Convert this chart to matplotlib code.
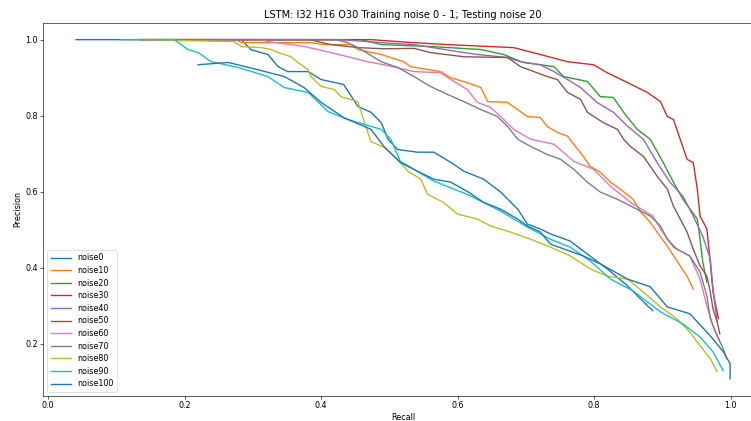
import numpy as np
import matplotlib.pyplot as plt

# recall / precision pairs, one pair of lists per noise level
noise0_r = [0.041, 0.283, 0.297, 0.312, 0.322, 0.337, 0.351, 0.381, 0.400, 0.433, 0.454, 0.473, 0.488, 0.498,
            0.512, 0.541, 0.565, 0.590, 0.609, 0.638, 0.663, 0.688, 0.702, 0.721, 0.736, 0.765, 0.784, 0.819,
            0.849, 0.878, 0.886]
noise0_p = [1.0, 1.0, 0.974, 0.966, 0.961, 0.929, 0.916, 0.916, 0.895, 0.882, 0.824, 0.809, 0.782, 0.738,
            0.711, 0.704, 0.704, 0.677, 0.654, 0.633, 0.599, 0.554, 0.515, 0.502, 0.489, 0.470, 0.444, 0.397,
            0.352, 0.300, 0.287]

noise10_r = [0.137, 0.275, 0.283, 0.385, 0.404, 0.444, 0.454, 0.488, 0.521, 0.531, 0.575, 0.590, 0.614, 0.634,
             0.644, 0.673, 0.688, 0.702, 0.721, 0.731, 0.746, 0.761, 0.770, 0.784, 0.794, 0.809, 0.824, 0.838,
             0.857, 0.867, 0.882, 0.892, 0.907, 0.926, 0.936, 0.945]
noise10_p = [1.0, 1.0, 0.992, 0.992, 0.987, 0.987, 0.974, 0.961, 0.942, 0.929, 0.916, 0.900, 0.887, 0.874,
             0.837, 0.835, 0.816, 0.798, 0.795, 0.772, 0.756, 0.746, 0.725, 0.693, 0.667, 0.651, 0.625, 0.607,
             0.580, 0.549, 0.520, 0.494, 0.457, 0.405, 0.378, 0.344]

noise20_r = [0.137, 0.458, 0.488, 0.560, 0.634, 0.667, 0.696, 0.741, 0.755, 0.790, 0.809, 0.828, 0.843, 0.863,
             0.882, 0.901, 0.916, 0.930, 0.951, 0.955, 0.959, 0.965]
noise20_p = [1.0, 1.0, 0.987, 0.982, 0.974, 0.961, 0.940, 0.929, 0.903, 0.890, 0.850, 0.848, 0.809, 0.764,
             0.738, 0.677, 0.625, 0.580, 0.528, 0.475, 0.415, 0.362]

noise30_r = [0.137, 0.473, 0.536, 0.585, 0.682, 0.721, 0.761, 0.799, 0.819, 0.849, 0.878, 0.897, 0.907, 0.916,
             0.926, 0.936, 0.945, 0.951, 0.955, 0.965, 0.970, 0.974, 0.982]
noise30_p = [1.0, 1.0, 0.992, 0.987, 0.979, 0.961, 0.942, 0.934, 0.913, 0.887, 0.861, 0.837, 0.798, 0.790,
             0.738, 0.685, 0.677, 0.607, 0.536, 0.502, 0.415, 0.336, 0.266]

noise40_r = [0.137, 0.429, 0.488, 0.536, 0.609, 0.629, 0.673, 0.692, 0.721, 0.741, 0.761, 0.780, 0.804, 0.828,
             0.849, 0.872, 0.892, 0.911, 0.930, 0.945, 0.959, 0.970, 0.974, 0.980]
noise40_p = [1.0, 1.0, 0.992, 0.987, 0.966, 0.961, 0.953, 0.942, 0.934, 0.916, 0.895, 0.874, 0.835, 0.809,
             0.772, 0.738, 0.677, 0.625, 0.588, 0.536, 0.483, 0.423, 0.344, 0.258]

noise50_r = [0.137, 0.385, 0.395, 0.414, 0.454, 0.492, 0.536, 0.560, 0.609, 0.673, 0.692, 0.731, 0.746, 0.761,
             0.780, 0.790, 0.813, 0.834, 0.843, 0.853, 0.872, 0.882, 0.892, 0.907, 0.916, 0.926, 0.936, 0.945,
             0.955, 0.965, 0.970, 0.974, 0.980, 0.984]
noise50_p = [1.0, 1.0, 0.995, 0.987, 0.979, 0.976, 0.977, 0.966, 0.955, 0.953, 0.929, 0.903, 0.895, 0.861,
             0.843, 0.809, 0.782, 0.764, 0.738, 0.719, 0.693, 0.667, 0.641, 0.607, 0.562, 0.528, 0.494, 0.449,
             0.405, 0.378, 0.336, 0.292, 0.258, 0.226]

noise60_r = [0.137, 0.312, 0.322, 0.356, 0.375, 0.395, 0.414, 0.444, 0.468, 0.492, 0.536, 0.575, 0.590, 0.614,
             0.629, 0.648, 0.663, 0.682, 0.707, 0.741, 0.770, 0.799, 0.824, 0.857, 0.886, 0.897, 0.916, 0.940,
             0.955, 0.965, 0.974, 0.984]
noise60_p = [1.0, 1.0, 0.995, 0.987, 0.982, 0.974, 0.966, 0.953, 0.942, 0.934, 0.916, 0.913, 0.895, 0.869,
             0.835, 0.822, 0.798, 0.764, 0.738, 0.725, 0.680, 0.659, 0.614, 0.567, 0.536, 0.502, 0.454, 0.431,
             0.370, 0.300, 0.247, 0.205]

noise70_r = [0.137, 0.421, 0.439, 0.454, 0.488, 0.512, 0.536, 0.560, 0.585, 0.609, 0.634, 0.658, 0.673, 0.688,
             0.707, 0.731, 0.751, 0.770, 0.790, 0.809, 0.834, 0.857, 0.882, 0.897, 0.907, 0.921, 0.940, 0.955,
             0.965, 0.970, 0.980, 0.989, 0.994]
noise70_p = [1.0, 1.0, 0.992, 0.979, 0.942, 0.927, 0.903, 0.877, 0.856, 0.837, 0.816, 0.798, 0.772, 0.738,
             0.719, 0.698, 0.685, 0.659, 0.625, 0.599, 0.580, 0.559, 0.536, 0.510, 0.475, 0.449, 0.431, 0.389,
             0.326, 0.266, 0.221, 0.187, 0.161]

noise80_r = [0.122, 0.272, 0.283, 0.312, 0.327, 0.337, 0.356, 0.366, 0.381, 0.385, 0.400, 0.419, 0.429, 0.454,
             0.462, 0.473, 0.492, 0.512, 0.527, 0.546, 0.556, 0.579, 0.600, 0.629, 0.648, 0.677, 0.707, 0.736,
             0.765, 0.794, 0.819, 0.849, 0.872, 0.897, 0.921, 0.940, 0.955, 0.970, 0.980]
noise80_p = [1.0, 0.995, 0.982, 0.979, 0.974, 0.966, 0.955, 0.940, 0.921, 0.903, 0.877, 0.869, 0.850, 0.837,
             0.790, 0.732, 0.717, 0.685, 0.654, 0.633, 0.593, 0.572, 0.541, 0.528, 0.510, 0.494, 0.475, 0.454,
             0.431, 0.397, 0.378, 0.370, 0.336, 0.297, 0.266, 0.231, 0.195, 0.161, 0.127]

noise90_r = [0.107, 0.185, 0.205, 0.220, 0.239, 0.278, 0.322, 0.346, 0.381, 0.410, 0.439, 0.488, 0.502, 0.516,
             0.565, 0.614, 0.663, 0.702, 0.736, 0.765, 0.794, 0.824, 0.857, 0.897, 0.930, 0.955, 0.974, 0.989]
noise90_p = [1.0, 1.0, 0.974, 0.966, 0.942, 0.927, 0.903, 0.874, 0.861, 0.811, 0.790, 0.764, 0.738, 0.680,
             0.628, 0.593, 0.549, 0.507, 0.475, 0.454, 0.418, 0.370, 0.339, 0.284, 0.252, 0.218, 0.179, 0.129]

noise100_r = [0.220, 0.264, 0.307, 0.346, 0.375, 0.400, 0.433, 0.473, 0.492, 0.516, 0.541, 0.565, 0.590, 0.614,
              0.638, 0.663, 0.688, 0.702, 0.721, 0.736, 0.784, 0.809, 0.849, 0.882, 0.907, 0.940, 0.970, 0.989,
              0.999, 0.999]
noise100_p = [0.934, 0.940, 0.921, 0.903, 0.874, 0.835, 0.795, 0.764, 0.719, 0.677, 0.654, 0.633, 0.625, 0.601,
              0.572, 0.554, 0.528, 0.510, 0.494, 0.462, 0.431, 0.410, 0.370, 0.350, 0.297, 0.279, 0.221, 0.179,
              0.148, 0.108]

labels = ["noise0", "noise10", "noise20", "noise30", "noise40", "noise50",
          "noise60", "noise70", "noise80", "noise90", "noise100"]
curves = [(noise0_r, noise0_p), (noise10_r, noise10_p), (noise20_r, noise20_p), (noise30_r, noise30_p),
          (noise40_r, noise40_p), (noise50_r, noise50_p), (noise60_r, noise60_p), (noise70_r, noise70_p),
          (noise80_r, noise80_p), (noise90_r, noise90_p), (noise100_r, noise100_p)]

# original figure was larger and scaled down, so draw at a low dpi
dpi = 55
fig = plt.figure(figsize=(751 / dpi, 421 / dpi), dpi=dpi)
ax = fig.add_axes([0.0577, 0.0601, 0.958, 0.886])

for (r, p), lab in zip(curves, labels):
    ax.plot(np.array(r), np.array(p), label=lab, lw=1.8)

ax.set_xlabel('Recall', fontsize=10.5)
ax.set_ylabel('Precision', fontsize=10.5)
ax.set_title('LSTM: I32 H16 O30 Training noise 0 - 1; Testing noise 20', fontsize=13)
ax.tick_params(labelsize=10.5)
ax.legend(loc='lower left', handlelength=2.5, fontsize=10.5, labelspacing=0.45)

plt.savefig("out.png", dpi=dpi)
